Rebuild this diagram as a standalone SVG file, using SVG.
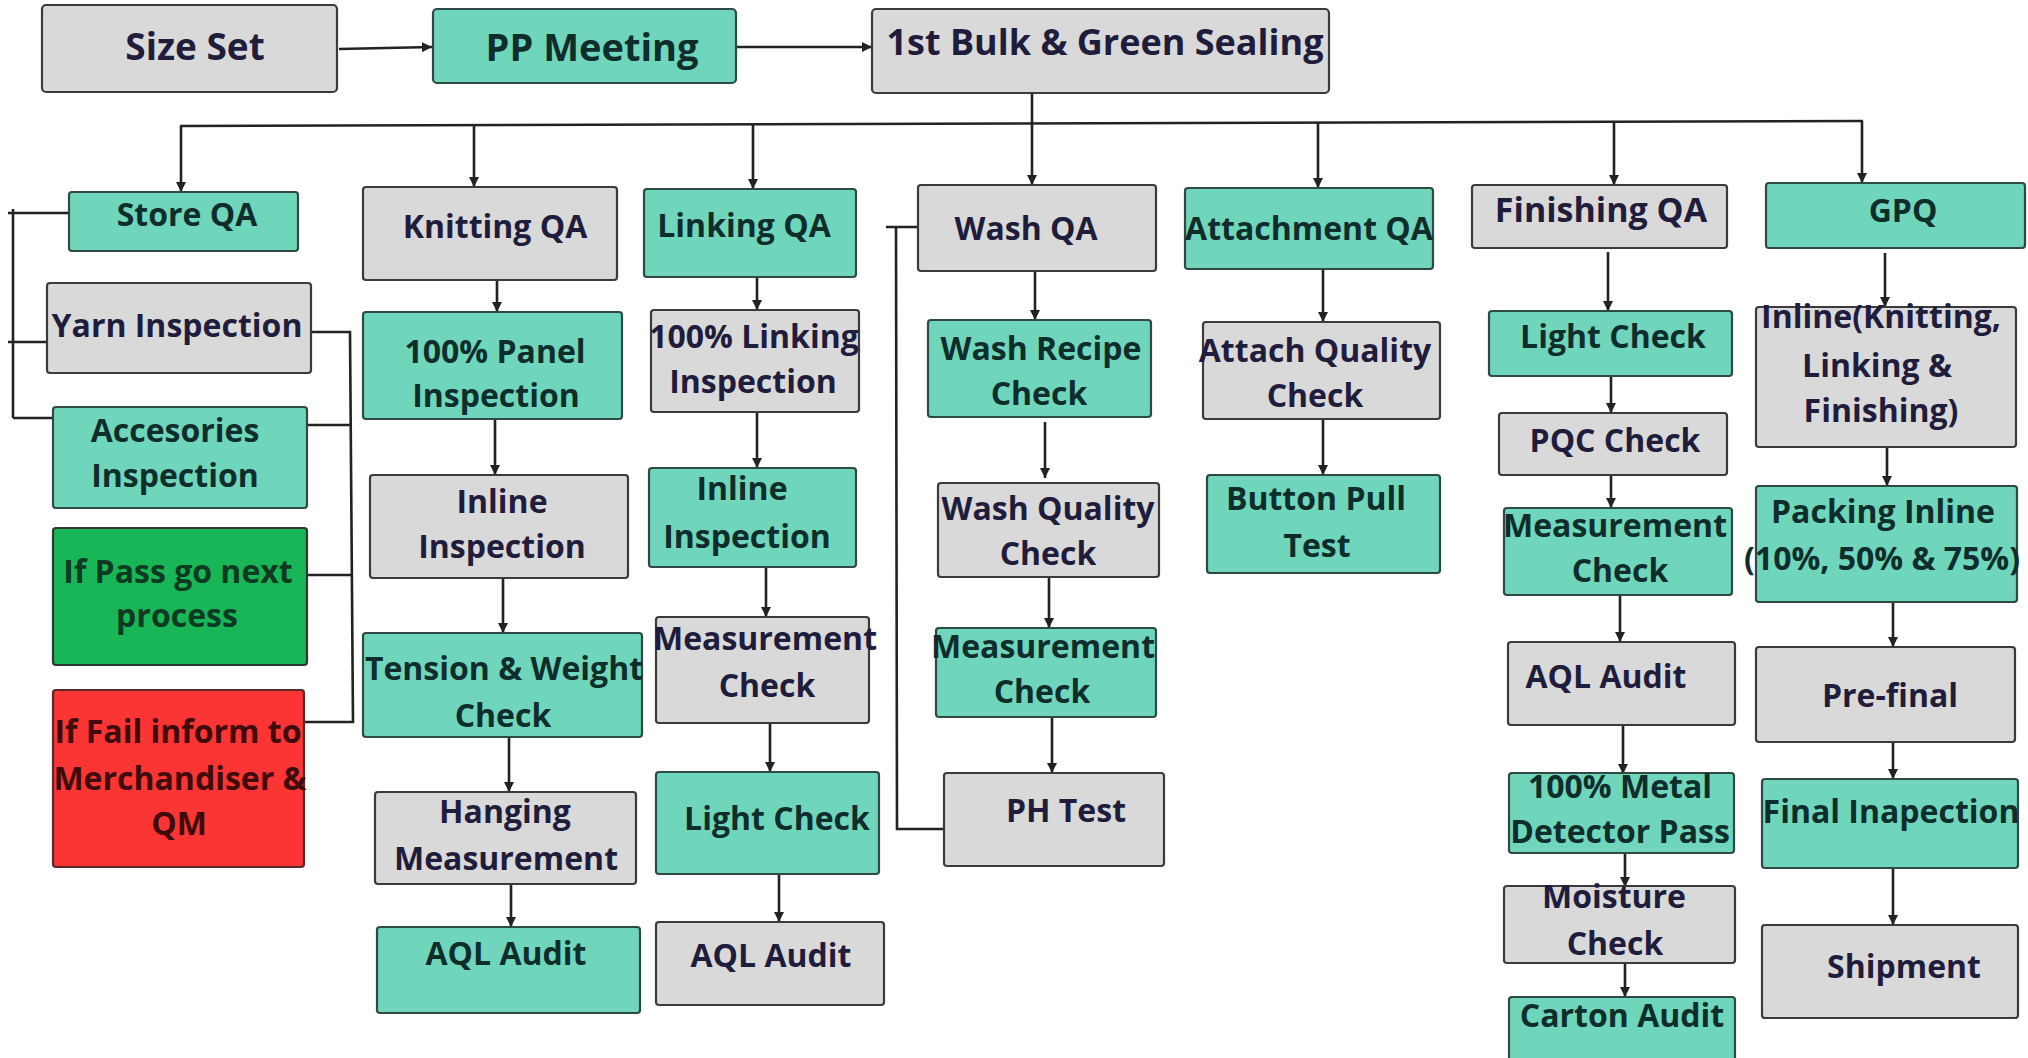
<svg xmlns="http://www.w3.org/2000/svg" width="2028" height="1058" viewBox="0 0 2028 1058">
<defs>
<marker id="ah" markerWidth="11" markerHeight="10" refX="10" refY="5" orient="auto" markerUnits="userSpaceOnUse">
<path d="M0,0 L10,5 L0,10 z" fill="#222"/>
</marker>
<style>
.g{fill:#d9d9d9;stroke:#3b3b3b;stroke-width:2.2}
.t{fill:#6fd5bb;stroke:#2f4a45;stroke-width:2.2}
.gr{fill:#19b657;stroke:#2b3a30;stroke-width:2.2}
.rd{fill:#fb3434;stroke:#5a2a2a;stroke-width:2.2}
text{font-family:"Open Sans","DejaVu Sans",sans-serif;font-weight:700;font-size:32px;text-anchor:middle}
.tg{fill:#1f1d3b}
.tt{fill:#0f2e2b}
.tgr{fill:#0d3a20}
.trd{fill:#3d0b0b}
.big{font-size:37px}
.c line,.c polyline{stroke:#222;stroke-width:2.6;fill:none}
</style>
</defs>
<rect width="2028" height="1058" fill="#ffffff"/>

<g class="c">
<line x1="339" y1="49" x2="432" y2="47" marker-end="url(#ah)"/>
<line x1="736" y1="47" x2="872" y2="47" marker-end="url(#ah)"/>
<line x1="1032" y1="93" x2="1032" y2="185" marker-end="url(#ah)"/>
<line x1="180" y1="126" x2="1863" y2="121"/>
<line x1="181" y1="126" x2="181" y2="192" marker-end="url(#ah)"/>
<line x1="474" y1="125" x2="474" y2="187" marker-end="url(#ah)"/>
<line x1="753" y1="124" x2="753" y2="189" marker-end="url(#ah)"/>
<line x1="1318" y1="123" x2="1318" y2="188" marker-end="url(#ah)"/>
<line x1="1614" y1="122" x2="1614" y2="185" marker-end="url(#ah)"/>
<line x1="1862" y1="121" x2="1862" y2="183" marker-end="url(#ah)"/>
<polyline points="69,213 8,213"/>
<line x1="13" y1="209" x2="13" y2="418"/>
<line x1="8" y1="342" x2="47" y2="342"/>
<line x1="13" y1="418" x2="53" y2="418"/>
<polyline points="311,332 350,332 353,722 304,722"/>
<line x1="290" y1="425" x2="351" y2="425"/>
<line x1="307" y1="575" x2="352" y2="575"/>
<line x1="497" y1="280" x2="497" y2="312" marker-end="url(#ah)"/>
<line x1="495" y1="419" x2="495" y2="475" marker-end="url(#ah)"/>
<line x1="503" y1="578" x2="503" y2="633" marker-end="url(#ah)"/>
<line x1="509" y1="737" x2="509" y2="792" marker-end="url(#ah)"/>
<line x1="511" y1="880" x2="511" y2="927" marker-end="url(#ah)"/>
<line x1="757" y1="277" x2="757" y2="310" marker-end="url(#ah)"/>
<line x1="757" y1="412" x2="757" y2="468" marker-end="url(#ah)"/>
<line x1="766" y1="567" x2="766" y2="617" marker-end="url(#ah)"/>
<line x1="770" y1="717" x2="770" y2="772" marker-end="url(#ah)"/>
<line x1="779" y1="864" x2="779" y2="922" marker-end="url(#ah)"/>
<polyline points="886,227 927,227"/>
<polyline points="896,227 897,829 944,829"/>
<line x1="1035" y1="271" x2="1035" y2="320" marker-end="url(#ah)"/>
<line x1="1045" y1="422" x2="1045" y2="478" marker-end="url(#ah)"/>
<line x1="1049" y1="577" x2="1049" y2="628" marker-end="url(#ah)"/>
<line x1="1052" y1="717" x2="1052" y2="773" marker-end="url(#ah)"/>
<line x1="1323" y1="269" x2="1323" y2="322" marker-end="url(#ah)"/>
<line x1="1323" y1="419" x2="1323" y2="475" marker-end="url(#ah)"/>
<line x1="1608" y1="252" x2="1608" y2="311" marker-end="url(#ah)"/>
<line x1="1611" y1="360" x2="1611" y2="413" marker-end="url(#ah)"/>
<line x1="1611" y1="465" x2="1611" y2="508" marker-end="url(#ah)"/>
<line x1="1620" y1="595" x2="1620" y2="642" marker-end="url(#ah)"/>
<line x1="1623" y1="720" x2="1623" y2="774" marker-end="url(#ah)"/>
<line x1="1625" y1="847" x2="1625" y2="887" marker-end="url(#ah)"/>
<line x1="1625" y1="963" x2="1625" y2="997" marker-end="url(#ah)"/>
<line x1="1885" y1="253" x2="1885" y2="307" marker-end="url(#ah)"/>
<line x1="1887" y1="447" x2="1887" y2="486" marker-end="url(#ah)"/>
<line x1="1893" y1="602" x2="1893" y2="647" marker-end="url(#ah)"/>
<line x1="1893" y1="742" x2="1893" y2="779" marker-end="url(#ah)"/>
<line x1="1893" y1="868" x2="1893" y2="925" marker-end="url(#ah)"/>
</g>

<g id="size-set"><rect class="g" x="42" y="5" width="295" height="87" rx="4"/><text class="tg big" x="195" y="60">Size Set</text></g>
<g id="pp-meeting"><rect class="t" x="433" y="9" width="303" height="74" rx="4"/><text class="tt big" x="592" y="61" style="font-size:38px">PP Meeting</text></g>
<g id="bulk"><rect class="g" x="872" y="9" width="457" height="84" rx="4"/><text class="tg" x="1105" y="55" style="font-size:36px">1st Bulk &amp; Green Sealing</text></g>

<g id="store-qa"><rect class="t" x="69" y="192" width="229" height="59" rx="3"/><text class="tt" x="187" y="226">Store QA</text></g>
<g id="yarn"><rect class="g" x="47" y="283" width="264" height="90" rx="3"/><text class="tg" x="177" y="337">Yarn Inspection</text></g>
<g id="accesories"><rect class="t" x="53" y="407" width="254" height="101" rx="3"/><text class="tt" x="175" y="442">Accesories</text><text class="tt" x="175" y="487">Inspection</text></g>
<g id="pass"><rect class="gr" x="53" y="528" width="254" height="137" rx="3"/><text class="tgr" x="178" y="583">If Pass go next</text><text class="tgr" x="177" y="627">process</text></g>
<g id="fail"><rect class="rd" x="53" y="690" width="251" height="177" rx="3"/><text class="trd" x="178" y="743">If Fail inform to</text><text class="trd" x="180" y="790">Merchandiser &amp;</text><text class="trd" x="179" y="835">QM</text></g>

<g id="knitting-qa"><rect class="g" x="363" y="187" width="254" height="93" rx="3"/><text class="tg" x="495" y="238">Knitting QA</text></g>
<g id="panel"><rect class="t" x="363" y="312" width="259" height="107" rx="3"/><text class="tt" x="495" y="363">100% Panel</text><text class="tt" x="496" y="407">Inspection</text></g>
<g id="k-inline"><rect class="g" x="370" y="475" width="258" height="103" rx="3"/><text class="tg" x="502" y="513">Inline</text><text class="tg" x="502" y="558">Inspection</text></g>
<g id="tension"><rect class="t" x="363" y="633" width="279" height="104" rx="3"/><text class="tt" x="504" y="680">Tension &amp; Weight</text><text class="tt" x="503" y="727">Check</text></g>
<g id="hanging"><rect class="g" x="375" y="792" width="261" height="92" rx="3"/><text class="tg" x="505" y="823">Hanging</text><text class="tg" x="506" y="870">Measurement</text></g>
<g id="k-aql"><rect class="t" x="377" y="927" width="263" height="86" rx="3"/><text class="tt" x="506" y="965">AQL Audit</text></g>

<g id="linking-qa"><rect class="t" x="644" y="189" width="212" height="88" rx="3"/><text class="tt" x="744" y="237">Linking QA</text></g>
<g id="linking100"><rect class="g" x="651" y="310" width="208" height="102" rx="3"/><text class="tg" x="754" y="348">100% Linking</text><text class="tg" x="753" y="393">Inspection</text></g>
<g id="l-inline"><rect class="t" x="649" y="468" width="207" height="99" rx="3"/><text class="tt" x="742" y="500">Inline</text><text class="tt" x="747" y="548">Inspection</text></g>
<g id="l-measure"><rect class="g" x="656" y="617" width="213" height="106" rx="3"/><text class="tg" x="765" y="650">Measurement</text><text class="tg" x="767" y="697">Check</text></g>
<g id="l-light"><rect class="t" x="656" y="772" width="223" height="102" rx="3"/><text class="tt" x="777" y="830">Light Check</text></g>
<g id="l-aql"><rect class="g" x="656" y="922" width="228" height="83" rx="3"/><text class="tg" x="771" y="967">AQL Audit</text></g>

<g id="wash-qa"><rect class="g" x="918" y="185" width="238" height="86" rx="3"/><text class="tg" x="1026" y="240">Wash QA</text></g>
<g id="recipe"><rect class="t" x="928" y="320" width="223" height="97" rx="3"/><text class="tt" x="1041" y="360">Wash Recipe</text><text class="tt" x="1039" y="405">Check</text></g>
<g id="wquality"><rect class="g" x="938" y="483" width="221" height="94" rx="3"/><text class="tg" x="1048" y="520">Wash Quality</text><text class="tg" x="1048" y="565">Check</text></g>
<g id="w-measure"><rect class="t" x="936" y="628" width="220" height="89" rx="3"/><text class="tt" x="1043" y="658">Measurement</text><text class="tt" x="1042" y="703">Check</text></g>
<g id="ph"><rect class="g" x="944" y="773" width="220" height="93" rx="3"/><text class="tg" x="1066" y="822">PH Test</text></g>

<g id="attachment-qa"><rect class="t" x="1185" y="188" width="248" height="81" rx="3"/><text class="tt" x="1309" y="240">Attachment QA</text></g>
<g id="attach-quality"><rect class="g" x="1203" y="322" width="237" height="97" rx="3"/><text class="tg" x="1315" y="362">Attach Quality</text><text class="tg" x="1315" y="407">Check</text></g>
<g id="button"><rect class="t" x="1207" y="475" width="233" height="98" rx="3"/><text class="tt" x="1316" y="510">Button Pull</text><text class="tt" x="1317" y="557">Test</text></g>

<g id="finishing-qa"><rect class="g" x="1472" y="185" width="255" height="63" rx="3"/><text class="tg" x="1601" y="222" style="font-size:34px">Finishing QA</text></g>
<g id="f-light"><rect class="t" x="1489" y="311" width="243" height="65" rx="3"/><text class="tt" x="1613" y="348">Light Check</text></g>
<g id="pqc"><rect class="g" x="1499" y="413" width="228" height="62" rx="3"/><text class="tg" x="1615" y="452">PQC Check</text></g>
<g id="f-measure"><rect class="t" x="1504" y="508" width="228" height="87" rx="3"/><text class="tt" x="1615" y="537">Measurement</text><text class="tt" x="1620" y="582">Check</text></g>
<g id="f-aql"><rect class="g" x="1508" y="642" width="227" height="83" rx="3"/><text class="tg" x="1606" y="688">AQL Audit</text></g>
<g id="metal"><rect class="t" x="1509" y="773" width="225" height="80" rx="3"/><text class="tt" x="1620" y="798">100% Metal</text><text class="tt" x="1620" y="843">Detector Pass</text></g>
<g id="moisture"><rect class="g" x="1504" y="886" width="231" height="77" rx="3"/><text class="tg" x="1614" y="908">Moisture</text><text class="tg" x="1615" y="955">Check</text></g>
<g id="carton"><rect class="t" x="1509" y="997" width="226" height="66" rx="3"/><text class="tt" x="1622" y="1027">Carton Audit</text></g>

<g id="gpq"><rect class="t" x="1766" y="183" width="259" height="65" rx="3"/><text class="tt" x="1903" y="222">GPQ</text></g>
<g id="g-inline"><rect class="g" x="1756" y="307" width="260" height="140" rx="3"/><text class="tg" x="1881" y="328">Inline(Knitting,</text><text class="tg" x="1877" y="377">Linking &amp;</text><text class="tg" x="1881" y="422">Finishing)</text></g>
<g id="packing"><rect class="t" x="1756" y="486" width="261" height="116" rx="3"/><text class="tt" x="1883" y="523">Packing Inline</text><text class="tt" x="1882" y="570">(10%, 50% &amp; 75%)</text></g>
<g id="prefinal"><rect class="g" x="1756" y="647" width="259" height="95" rx="3"/><text class="tg" x="1890" y="707">Pre-final</text></g>
<g id="final"><rect class="t" x="1762" y="779" width="256" height="89" rx="3"/><text class="tt" x="1891" y="823">Final Inapection</text></g>
<g id="shipment"><rect class="g" x="1762" y="925" width="256" height="93" rx="3"/><text class="tg" x="1904" y="978">Shipment</text></g>
</svg>
